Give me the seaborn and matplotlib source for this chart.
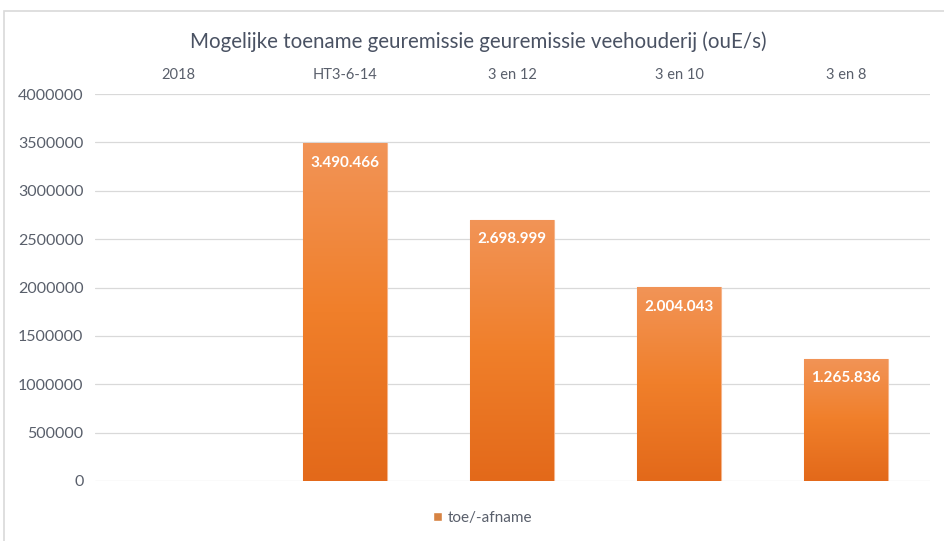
import matplotlib.pyplot as plt
import numpy as np
import pandas as pd
import seaborn as sns
from matplotlib.colors import LinearSegmentedColormap
from matplotlib.patches import Rectangle

categories = ["2018", "HT3-6-14", "3 en 12", "3 en 10", "3 en 8"]
values = [0, 3490466, 2698999, 2004043, 1265836]
labels = ["", "3.490.466", "2.698.999", "2.004.043", "1.265.836"]
yticks = [0, 500000, 1000000, 1500000, 2000000, 2500000, 3000000, 3500000, 4000000]

sns.set_theme(style="white")
plt.rcParams["font.family"] = ["Lato", "DejaVu Sans"]

text_col = "#595F6B"
df = pd.DataFrame({"scenario": categories, "toe/-afname": values})

fig = plt.figure(figsize=(9.44, 5.41), dpi=100)
ax = fig.add_axes([94.5 / 944, 1 - 481 / 541, 835 / 944, 387 / 541])

sns.barplot(data=df, x="scenario", y="toe/-afname", color="#F07F2A", width=0.5,
            ax=ax, label="toe/-afname", zorder=2)

# Excel-style vertical gradient on each bar
grad = LinearSegmentedColormap.from_list("exc", ["#E3691A", "#F07F2A", "#F29457"])
img = np.linspace(0, 1, 256).reshape(-1, 1)
for patch in ax.patches:
    h = patch.get_height()
    if h <= 0:
        continue
    x0 = patch.get_x()
    w = patch.get_width()
    im = ax.imshow(img, cmap=grad, origin="lower", aspect="auto",
                   extent=[x0, x0 + w, 0, h], zorder=3)
    im.set_clip_path(patch)
    patch.set_edgecolor("#F5B48A")
    patch.set_linewidth(0.8)

ax.set_xlim(-0.5, len(categories) - 0.5)
ax.set_ylim(0, 4000000)
ax.set_yticks(yticks)
ax.set_yticklabels([str(t) for t in yticks])
ax.yaxis.grid(True, color="#D9D9D9", linewidth=0.9, zorder=0)
ax.set_axisbelow(True)
ax.xaxis.tick_top()
ax.tick_params(axis="y", length=0, labelsize=11.5, colors=text_col, pad=8)
ax.tick_params(axis="x", length=0, labelsize=10.5, colors=text_col, pad=9)
ax.set_xlabel("")
ax.set_ylabel("")
for s in ax.spines.values():
    s.set_visible(False)

for i, (v, lab) in enumerate(zip(values, labels)):
    if v > 0:
        ax.annotate(lab, (i, v), xytext=(0, -14), textcoords="offset points",
                    ha="center", va="center", color="white",
                    fontsize=11, fontweight="bold", zorder=5)

fig.text(478 / 944, 1 - 42 / 541, "Mogelijke toename geuremissie geuremissie veehouderij (ouE/s)",
         ha="center", va="center", fontsize=14.8, color="#4A5263")

leg = ax.legend(loc="center", bbox_to_anchor=(0.465, -0.095), frameon=False,
                fontsize=11, handlelength=0.6, handleheight=0.6, handletextpad=0.4,
                labelcolor=text_col)

fig.patches.append(Rectangle((4 / 944, -0.1), 1.2, 1.1 - 11 / 541, transform=fig.transFigure,
                             fill=False, edgecolor="#D9D9D9", linewidth=1.2))

fig.savefig("out.png", dpi=100)
